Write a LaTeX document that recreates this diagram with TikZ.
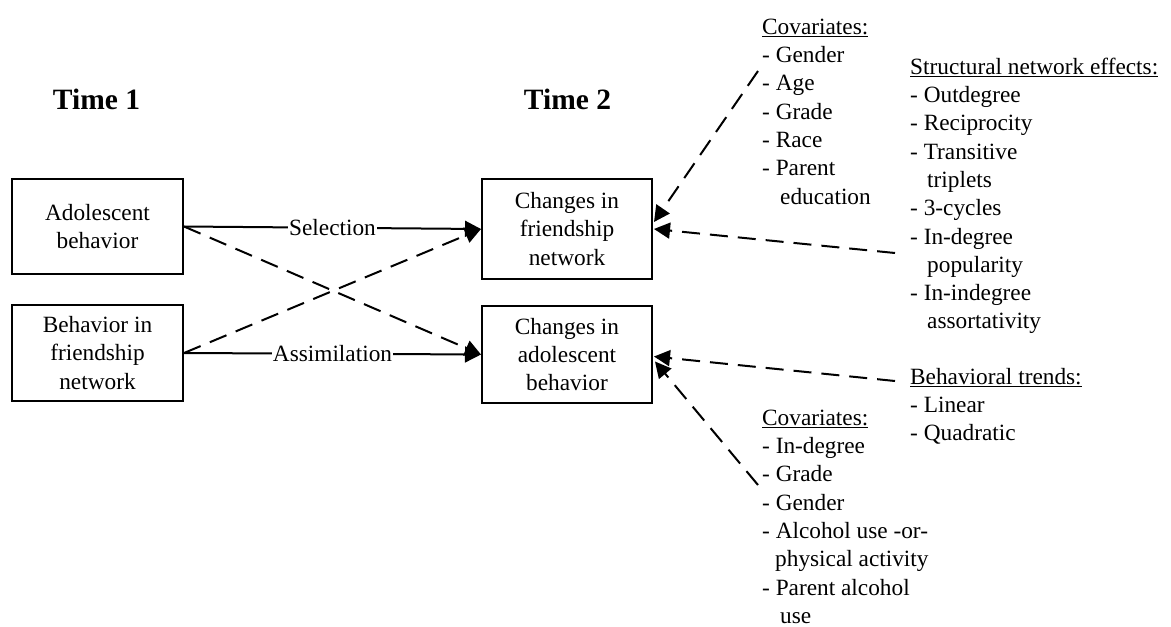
\documentclass[tikz,border=0pt]{standalone}
\usepackage{fontspec}
\setmainfont{Liberation Serif}
\usetikzlibrary{arrows.meta,calc}
\begin{document}
\begin{tikzpicture}[x=1pt,y=-1pt,
  txt/.style={font={\fontsize{23.3}{28.3}\selectfont}},
  boxnode/.style={draw,line width=2pt,minimum width=171pt,align=center,inner sep=0pt,txt},
  timelbl/.style={font={\fontsize{29.5}{34}\selectfont\bfseries},anchor=base,inner sep=0pt},
  listblock/.style={txt,align=left,anchor=north west,inner sep=0pt},
  solidarr/.style={line width=2pt,-{Triangle[length=16pt,width=16pt]}},
  dasharr/.style={line width=2pt,dash pattern=on 18pt off 10pt,-{Triangle[length=16pt,width=16pt]}},
  lbl/.style={txt,fill=white,inner sep=1pt}
]
\useasboundingbox (0,0) rectangle (1171,627);

\node[timelbl] (t1) at (96.5,109) {Time 1};
\node[timelbl] (t2) at (567.5,109) {Time 2};

\node[boxnode,minimum height=95pt] (A) at (97.5,226.5) {Adolescent\\behavior};
\node[boxnode,minimum height=96pt] (B) at (97.5,353) {Behavior in\\friendship\\network};
\node[boxnode,minimum height=100pt,minimum width=170pt] (C) at (567,229) {Changes in\\friendship\\network};
\node[boxnode,minimum height=97pt,minimum width=170pt] (D) at (567,354.5) {Changes in\\adolescent\\behavior};

\node[listblock] (cov1) at (762,16) {\rule{0pt}{18pt}\underline{Covariates:}\\- Gender\\- Age\\- Grade\\- Race\\- Parent\\\hspace*{18pt}education};
\node[listblock] (struct) at (910,56) {\rule{0pt}{18pt}\underline{Structural network effects:}\\- Outdegree\\- Reciprocity\\- Transitive\\\hspace*{17pt}triplets\\- 3-cycles\\- In-degree\\\hspace*{17pt}popularity\\- In-indegree\\\hspace*{17pt}assortativity};
\node[listblock] (behav) at (910,366) {\rule{0pt}{18pt}\underline{Behavioral trends:}\\- Linear\\- Quadratic};
\node[listblock] (cov2) at (762,407) {\rule{0pt}{18pt}\underline{Covariates:}\\- In-degree\\- Grade\\- Gender\\- Alcohol use -or-\\\hspace*{13pt}physical activity\\- Parent alcohol\\\hspace*{18pt}use};

\coordinate (cov1s) at (758,71);
\coordinate (structs) at (895,253);
\coordinate (behavs) at (895,381);
\coordinate (cov2s) at (758,485);

\draw[solidarr] (A.east) -- node[lbl]{Selection} (C.west);
\draw[solidarr] (B.east) -- node[lbl]{Assimilation} (D.west);
\draw[dasharr] (A.east) -- (D.west);
\draw[dasharr] (B.east) -- (C.west);

\draw[dasharr] (cov1s) -- ($(C.east)+(1,-7)$);
\draw[dasharr] (structs) -- ($(C.east)+(1,0)$);
\draw[dasharr] (behavs) -- ($(D.east)+(1,2)$);
\draw[dasharr] (cov2s) -- ($(D.east)+(2,7)$);
\end{tikzpicture}
\end{document}
